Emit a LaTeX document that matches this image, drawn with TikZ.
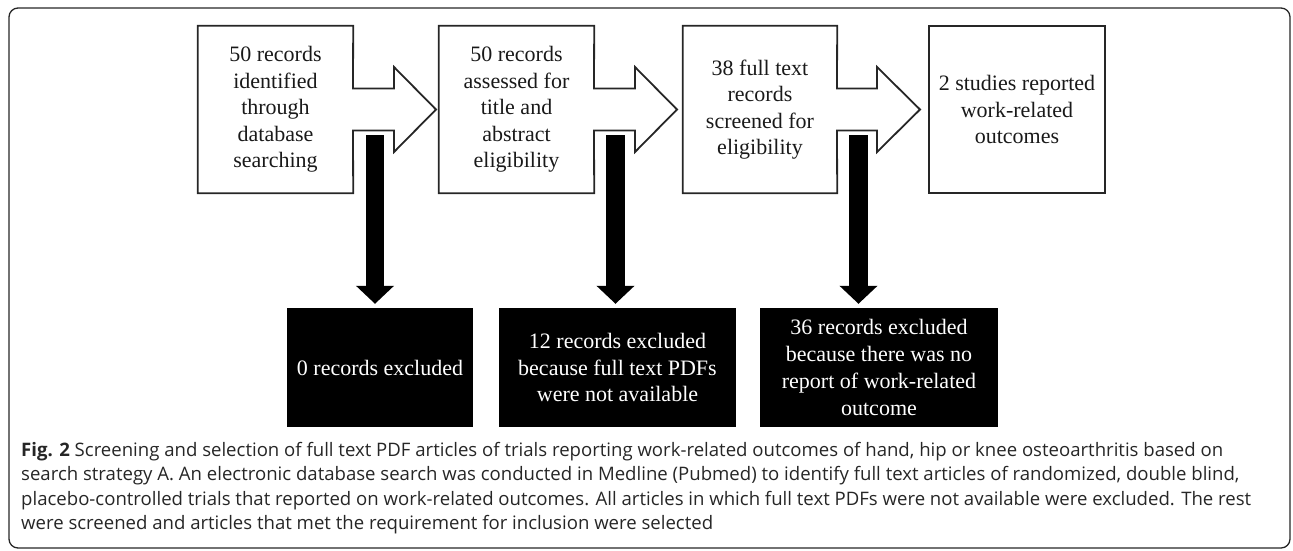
\documentclass[tikz,border=0pt]{standalone}
\usepackage{fontspec}
\setmainfont{Liberation Serif}
\newfontfamily\capfont{Open Sans}
\usetikzlibrary{arrows.meta}
\begin{document}
\begin{tikzpicture}[x=1pt,y=-1pt,
  boxtext/.style={font=\fontsize{22}{26.5}\selectfont, align=center, inner sep=0pt, text=black!90},
  outline/.style={draw=black!85, line width=1.8pt, line join=miter},
  blackbox/.style={fill=black, text=white, font=\fontsize{22}{26.7}\selectfont, align=center, inner sep=0pt},
  downarrow/.style={draw=black, line width=18.5pt, -{Triangle[width=37pt,length=18pt]}, shorten >=4pt},
  captext/.style={anchor=north west, inner sep=0pt, text=black!85}
]
\useasboundingbox (0,0) rectangle (1293,550);
\draw[draw=black!85, line width=1.3pt, rounded corners=9pt] (9,8) rectangle (1290,548);

% top row boxes
\node[boxtext, minimum width=155pt, minimum height=167pt] (b1) at (275.5,109.5) {50 records\\identified\\through\\database\\searching};
\node[boxtext, minimum width=155pt, minimum height=167pt] (b2) at (516.5,109.5) {50 records\\assessed for\\title and\\abstract\\eligibility};
\node[boxtext, minimum width=154pt, minimum height=167pt] (b3) at (760,109.5) {38 full text\\records\\screened for\\eligibility};
\node[boxtext, minimum width=176pt, minimum height=167pt] (b4) at (1017,109.5) {2 studies reported\\work-related\\outcomes};

% box outlines with block arrows
\draw[outline] (b1.north west) -- (b1.north east) -- (353,88.5) -- (394,88.5) -- (394,67) -- (436,109.5) -- (394,152) -- (394,130.5) -- (353,130.5) -- (b1.south east) -- (b1.south west) -- cycle;
\draw[outline] (b2.north west) -- (b2.north east) -- (594,88.5) -- (635,88.5) -- (635,67) -- (677,109.5) -- (635,152) -- (635,130.5) -- (594,130.5) -- (b2.south east) -- (b2.south west) -- cycle;
\draw[outline] (b3.north west) -- (b3.north east) -- (837,88.5) -- (877,88.5) -- (877,67) -- (920,109.5) -- (877,152) -- (877,130.5) -- (837,130.5) -- (b3.south east) -- (b3.south west) -- cycle;
\draw[outline] (b4.north west) rectangle (b4.south east);

% excluded boxes
\node[blackbox, minimum width=186pt, minimum height=119pt] (e1) at (380,367.5) {0 records excluded};
\node[blackbox, minimum width=237pt, minimum height=119pt] (e2) at (617.5,367.5) {12 records excluded\\because full text PDFs\\were not available};
\node[blackbox, minimum width=238pt, minimum height=119pt] (e3) at (879,367.5) {36 records excluded\\because there was no\\report of work-related\\outcome};

% downward arrows
\coordinate (s1) at (375,135);
\coordinate (s2) at (615.5,135);
\coordinate (s3) at (858.5,135);
\draw[downarrow] (s1) -- (s1 |- e1.north);
\draw[downarrow] (s2) -- (s2 |- e2.north);
\draw[downarrow] (s3) -- (s3 |- e3.north);

% caption
\node[captext] (cap) at (21,439) {\resizebox{1230pt}{!}{\capfont\fontsize{16.6pt}{21.8pt}\selectfont\begin{tabular}{@{}l@{}}\textbf{Fig. 2} Screening and selection of full text PDF articles of trials reporting work-related outcomes of hand, hip or knee osteoarthritis based on\\
search strategy A. An electronic database search was conducted in Medline (Pubmed) to identify full text articles of randomized, double blind,\\
placebo-controlled trials that reported on work-related outcomes. All articles in which full text PDFs were not available were excluded. The rest\\
were screened and articles that met the requirement for inclusion were selected\end{tabular}}};
\end{tikzpicture}
\end{document}
